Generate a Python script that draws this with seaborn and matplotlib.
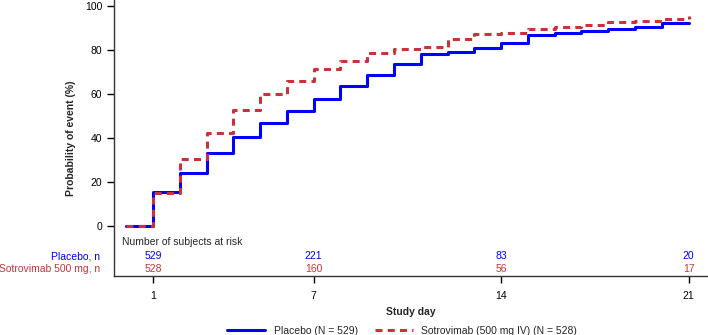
import pandas as pd
import matplotlib.pyplot as plt
import seaborn as sns
from matplotlib.lines import Line2D

# Kaplan-Meier style cumulative probability of event, read per study day
days = list(range(0, 22))
placebo_prob = [0, 15.6, 24.2, 33.3, 40.3, 46.7, 52.3, 57.6, 63.6, 68.6, 73.8,
                78.0, 79.2, 81.0, 83.2, 86.6, 87.6, 88.5, 89.4, 90.4, 92.4, 92.4]
sotro_prob = [0, 15.0, 30.3, 42.1, 52.7, 59.8, 66.0, 71.5, 75.2, 78.5, 80.3,
              81.5, 85.0, 87.1, 87.6, 89.4, 90.6, 91.4, 92.9, 93.3, 94.1, 95.3]

arm_labels = ["Placebo (N = 529)", "Sotrovimab (500 mg IV) (N = 528)"]

# number at risk table
risk_days = [1, 7, 14, 21]
placebo_risk = [529, 221, 83, 20]
sotro_risk = [528, 160, 56, 17]
risk_row_labels = ["Placebo, n", "Sotrovimab 500 mg, n"]

blue = "#0000FF"
red = "#C8323A"
fs = 7.5

sns.set_style("ticks")
plt.rcParams['font.family'] = ['Liberation Sans', 'DejaVu Sans']

df = pd.DataFrame({
    "day": days + days,
    "prob": placebo_prob + sotro_prob,
    "arm": [arm_labels[0]] * len(days) + [arm_labels[1]] * len(days),
})

fig = plt.figure(figsize=(7.08, 3.35), dpi=100)
ax = fig.add_axes([0.161, 0.176, 0.838, 0.824])

lw = 2.2
dash = (2.3, 1.7)
sns.lineplot(
    data=df, x="day", y="prob", hue="arm", style="arm",
    palette={arm_labels[0]: blue, arm_labels[1]: red},
    dashes={arm_labels[0]: "", arm_labels[1]: dash},
    drawstyle="steps-post", linewidth=lw, ax=ax, legend=False,
)

ax.set_xlim(-0.46, 21.7)
ax.set_ylim(-22.7, 102.7)
ax.set_yticks([0, 20, 40, 60, 80, 100])
ax.set_xticks(risk_days)
ax.tick_params(axis="both", labelsize=fs, length=5, width=1, colors="black")
ax.tick_params(axis="x", pad=6)
for s in ["top", "right"]:
    ax.spines[s].set_visible(False)
for s in ["left", "bottom"]:
    ax.spines[s].set_linewidth(1)
    ax.spines[s].set_color("#333333")

ax.set_xlabel("Study day", fontsize=fs, fontweight="bold", labelpad=4)
ax.set_ylabel("Probability of event (%)", fontsize=fs, fontweight="bold", labelpad=6)

# at-risk table inside the axes
ax.text(-0.16, -7.4, "Number of subjects at risk", fontsize=fs, ha="left", va="center")
for d, p, s in zip(risk_days, placebo_risk, sotro_risk):
    ax.text(d, -13.6, str(p), color=blue, fontsize=fs, ha="center", va="center")
    ax.text(d, -19.5, str(s), color=red, fontsize=fs, ha="center", va="center")
ax.text(-0.98, -13.6, risk_row_labels[0], color=blue, fontsize=fs, ha="right",
        va="center", clip_on=False)
ax.text(-0.98, -19.5, risk_row_labels[1], color=red, fontsize=fs, ha="right",
        va="center", clip_on=False)

# legend below
handles = [
    Line2D([], [], color=blue, linewidth=lw),
    Line2D([], [], color=red, linewidth=lw, linestyle=(0, dash)),
]
fig.legend(handles, arm_labels, loc="lower center", bbox_to_anchor=(0.568, -0.03),
           ncol=2, frameon=False, fontsize=fs, handlelength=3.7, columnspacing=1.6,
           handletextpad=0.8)

fig.savefig("out.png", dpi=100)
